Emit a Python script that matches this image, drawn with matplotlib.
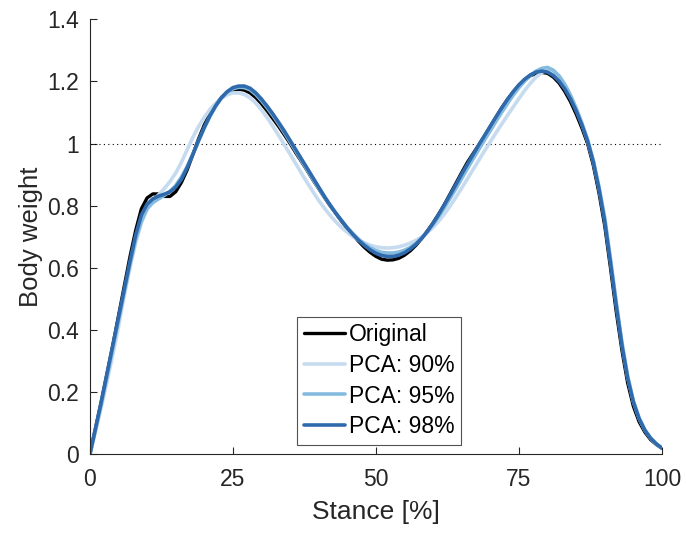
import matplotlib.pyplot as plt
import numpy as np

# vertical ground reaction force over stance, normalised to body weight
stance = np.arange(0, 101)

original = [0.000, 0.085, 0.170, 0.260, 0.350, 0.445, 0.540, 0.635, 0.720, 0.790,
            0.825, 0.838, 0.838, 0.830, 0.830, 0.845, 0.875, 0.915, 0.965, 1.015,
            1.060, 1.095, 1.125, 1.148, 1.163, 1.172, 1.175, 1.172, 1.163, 1.148,
            1.128, 1.105, 1.080, 1.055, 1.028, 1.000, 0.970, 0.942, 0.913, 0.883,
            0.855, 0.827, 0.800, 0.775, 0.750, 0.727, 0.705, 0.685, 0.666, 0.650,
            0.637, 0.628, 0.625, 0.626, 0.631, 0.641, 0.655, 0.673, 0.695, 0.719,
            0.745, 0.774, 0.805, 0.839, 0.873, 0.907, 0.940, 0.968, 0.996, 1.025,
            1.055, 1.085, 1.115, 1.142, 1.166, 1.188, 1.205, 1.218, 1.226, 1.229,
            1.226, 1.214, 1.195, 1.168, 1.135, 1.095, 1.050, 1.000, 0.930, 0.840,
            0.735, 0.600, 0.460, 0.335, 0.230, 0.155, 0.105, 0.072, 0.048, 0.032,
            0.020]

pca90 = [0.000, 0.075, 0.152, 0.235, 0.320, 0.410, 0.510, 0.600, 0.680, 0.745,
         0.790, 0.815, 0.835, 0.855, 0.878, 0.905, 0.940, 0.980, 1.020, 1.055,
         1.085, 1.110, 1.130, 1.146, 1.157, 1.163, 1.163, 1.158, 1.147, 1.130,
         1.108, 1.083, 1.055, 1.026, 0.996, 0.966, 0.935, 0.904, 0.874, 0.845,
         0.817, 0.792, 0.769, 0.748, 0.730, 0.714, 0.700, 0.689, 0.680, 0.673,
         0.668, 0.665, 0.664, 0.665, 0.668, 0.673, 0.680, 0.689, 0.700, 0.714,
         0.731, 0.751, 0.774, 0.800, 0.828, 0.857, 0.887, 0.917, 0.947, 0.977,
         1.006, 1.035, 1.063, 1.091, 1.118, 1.145, 1.171, 1.194, 1.214, 1.229,
         1.237, 1.233, 1.216, 1.189, 1.153, 1.111, 1.063, 1.009, 0.943, 0.857,
         0.757, 0.625, 0.487, 0.357, 0.250, 0.170, 0.116, 0.079, 0.053, 0.034,
         0.020]

pca95 = [0.000, 0.080, 0.162, 0.250, 0.340, 0.430, 0.520, 0.610, 0.690, 0.750,
         0.790, 0.810, 0.822, 0.833, 0.846, 0.865, 0.892, 0.926, 0.966, 1.008,
         1.050, 1.088, 1.120, 1.146, 1.165, 1.176, 1.181, 1.180, 1.173, 1.158,
         1.138, 1.115, 1.090, 1.063, 1.035, 1.005, 0.975, 0.945, 0.915, 0.885,
         0.856, 0.828, 0.801, 0.776, 0.752, 0.730, 0.710, 0.692, 0.677, 0.665,
         0.656, 0.650, 0.648, 0.648, 0.651, 0.657, 0.666, 0.679, 0.696, 0.716,
         0.740, 0.766, 0.795, 0.825, 0.856, 0.888, 0.920, 0.951, 0.982, 1.012,
         1.042, 1.072, 1.101, 1.129, 1.156, 1.180, 1.201, 1.219, 1.233, 1.242,
         1.245, 1.236, 1.218, 1.191, 1.156, 1.114, 1.066, 1.012, 0.945, 0.860,
         0.760, 0.628, 0.490, 0.360, 0.252, 0.172, 0.117, 0.079, 0.053, 0.034,
         0.020]

pca98 = [0.000, 0.085, 0.170, 0.260, 0.350, 0.440, 0.530, 0.620, 0.705, 0.770,
         0.805, 0.822, 0.831, 0.837, 0.845, 0.860, 0.885, 0.922, 0.965, 1.010,
         1.052, 1.090, 1.122, 1.148, 1.167, 1.180, 1.185, 1.185, 1.178, 1.163,
         1.143, 1.120, 1.095, 1.068, 1.040, 1.010, 0.980, 0.950, 0.920, 0.890,
         0.860, 0.830, 0.802, 0.776, 0.752, 0.728, 0.707, 0.688, 0.672, 0.658,
         0.647, 0.640, 0.637, 0.637, 0.641, 0.649, 0.661, 0.676, 0.695, 0.718,
         0.744, 0.773, 0.804, 0.836, 0.869, 0.902, 0.934, 0.965, 0.996, 1.026,
         1.056, 1.086, 1.115, 1.142, 1.167, 1.189, 1.207, 1.221, 1.230, 1.233,
         1.230, 1.219, 1.201, 1.176, 1.144, 1.105, 1.060, 1.008, 0.940, 0.852,
         0.748, 0.615, 0.478, 0.350, 0.245, 0.168, 0.115, 0.078, 0.052, 0.034,
         0.020]

labels = ['Original', 'PCA: 90%', 'PCA: 95%', 'PCA: 98%']
colors = ['black', '#c6dbef', '#86bbe0', '#2f6aad']
widths = [2.4, 2.6, 2.6, 2.6]

plt.rcParams['font.family'] = ['Liberation Sans', 'DejaVu Sans']
txt = '#262626'

fig = plt.figure(figsize=(6.86, 5.34), dpi=100)
ax = fig.add_axes([0.131, 0.149, 0.834, 0.815])

ax.plot([0, 100], [1, 1], color='black', linestyle=(0, (1, 3)), linewidth=0.8)
for y, lab, c, w in zip([original, pca90, pca95, pca98], labels, colors, widths):
    ax.plot(stance, y, color=c, linewidth=w, label=lab,
            solid_capstyle='round', solid_joinstyle='round')

ax.set_xlim(0, 100)
ax.set_ylim(0, 1.4)
ax.set_xticks([0, 25, 50, 75, 100])
ax.set_yticks(np.arange(0, 1.41, 0.2))
ax.set_yticklabels(['0', '0.2', '0.4', '0.6', '0.8', '1', '1.2', '1.4'])
ax.tick_params(direction='in', length=5, width=0.8, colors=txt, labelsize=16.5)
ax.tick_params(axis='x', pad=10)
ax.tick_params(axis='y', pad=8)
for s in ['top', 'right']:
    ax.spines[s].set_visible(False)
for s in ['left', 'bottom']:
    ax.spines[s].set_color(txt)
    ax.spines[s].set_linewidth(0.8)

ax.set_xlabel('Stance [%]', fontsize=19, color=txt, labelpad=6)
ax.set_ylabel('Body weight', fontsize=18.5, color=txt, labelpad=3)

leg = ax.legend(loc='lower center', bbox_to_anchor=(0.506, 0.006), fontsize=16.5,
                frameon=True, fancybox=False, edgecolor='#262626',
                handlelength=1.8, handletextpad=0.15, borderpad=0.3,
                labelspacing=0.33, borderaxespad=0.3)
leg.get_frame().set_linewidth(0.8)

plt.savefig('out.png', dpi=100)
plt.close()
